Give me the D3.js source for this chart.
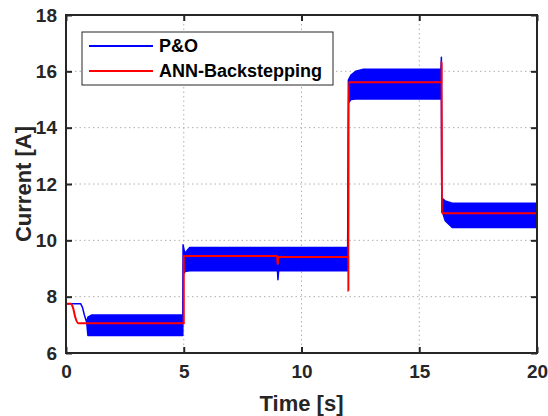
<!DOCTYPE html>
<html>
<head>
<meta charset="utf-8">
<script src="https://cdn.jsdelivr.net/npm/d3@7"></script>
<style>
  html, body { margin: 0; padding: 0; background: #fff; }
  svg { display: block; font-family: "Liberation Sans", Arial, sans-serif; }
</style>
</head>
<body>
<svg id="chart" width="548" height="416"></svg>
<script>
// P&O current: ripple envelope (low / high) over time
const poTime = [0, 0.62, 0.70, 0.78, 0.88, 0.93, 1.10, 4.96, 4.97, 5.03, 5.05, 5.25, 8.98, 9.00, 9.03, 11.96, 11.99, 12.10, 12.30, 12.60, 15.92, 15.94, 15.96, 16.00, 16.10, 16.40, 20];
const poLow  = [7.75, 7.75, 7.62, 7.35, 7.08, 6.62, 6.62, 6.62, 8.79, 8.85, 8.89, 8.92, 8.92, 8.60, 8.92, 8.92, 14.87, 15.00, 15.02, 15.02, 15.02, 15.02, 11.00, 10.97, 10.70, 10.46, 10.46];
const poHigh = [7.75, 7.75, 7.62, 7.35, 7.08, 7.27, 7.35, 7.35, 9.84, 9.60, 9.54, 9.75, 9.75, 9.75, 9.75, 9.75, 15.69, 15.87, 16.00, 16.07, 16.07, 16.50, 11.47, 11.47, 11.40, 11.32, 11.32];

// ANN-Backstepping current
const annTime = [0, 0.21, 0.30, 0.40, 0.52, 5.00, 5.00, 8.97, 8.98, 9.00, 9.01, 11.99, 11.99, 12.00, 15.95, 15.95, 15.96, 20];
const annVal  = [7.75, 7.75, 7.60, 7.25, 7.06, 7.06, 9.44, 9.44, 9.16, 9.16, 9.41, 9.41, 8.21, 15.61, 15.61, 16.32, 10.96, 10.96];

const xTicks = [0, 5, 10, 15, 20];
const yTicks = [6, 8, 10, 12, 14, 16, 18];
const seriesNames = ["P&O", "ANN-Backstepping"];
const seriesColors = ["#0000ff", "#ff0000"];

const W = 548, H = 416;
const m = { left: 66, right: 11, top: 15, bottom: 63 };
const iw = W - m.left - m.right, ih = H - m.top - m.bottom;

const svg = d3.select("#chart");
const g = svg.append("g").attr("transform", `translate(${m.left},${m.top})`);

const x = d3.scaleLinear().domain([0, 20]).range([0, iw]);
const y = d3.scaleLinear().domain([6, 18]).range([ih, 0]);

// dotted grid
g.append("g").selectAll("line.gx").data(xTicks.slice(1, -1)).join("line")
  .attr("x1", d => x(d)).attr("x2", d => x(d)).attr("y1", 0).attr("y2", ih)
  .attr("stroke", "#b0b0b0").attr("stroke-width", 1).attr("stroke-dasharray", "1.5,3");
g.append("g").selectAll("line.gy").data(yTicks.slice(1, -1)).join("line")
  .attr("x1", 0).attr("x2", iw).attr("y1", d => y(d)).attr("y2", d => y(d))
  .attr("stroke", "#b0b0b0").attr("stroke-width", 1).attr("stroke-dasharray", "1.5,3");

const po = poTime.map((t, i) => ({ t, lo: poLow[i], hi: poHigh[i] }));
const ann = annTime.map((t, i) => ({ t, v: annVal[i] }));

svg.append("defs").append("clipPath").attr("id", "plotclip")
  .append("rect").attr("x", 0).attr("y", 0).attr("width", iw).attr("height", ih);
const plot = g.append("g").attr("clip-path", "url(#plotclip)");

// P&O ripple band
plot.append("path").datum(po)
  .attr("d", d3.area().x(d => x(d.t)).y0(d => y(d.lo)).y1(d => y(d.hi)))
  .attr("fill", seriesColors[0])
  .attr("stroke", seriesColors[0]).attr("stroke-width", 1.5).attr("stroke-linejoin", "round");

// ANN-Backstepping trace
plot.append("path").datum(ann)
  .attr("d", d3.line().x(d => x(d.t)).y(d => y(d.v)).curve(d3.curveMonotoneX))
  .attr("fill", "none").attr("stroke", seriesColors[1]).attr("stroke-width", 2);

// axes with inward ticks on all four sides
const fontTick = 19;
const axB = g.append("g").attr("transform", `translate(0,${ih})`)
  .call(d3.axisBottom(x).tickValues(xTicks).tickSize(-6).tickPadding(12));
const axL = g.append("g")
  .call(d3.axisLeft(y).tickValues(yTicks).tickSize(-6).tickPadding(9));
const axT = g.append("g")
  .call(d3.axisTop(x).tickValues(xTicks).tickSize(-6).tickFormat(""));
const axR = g.append("g").attr("transform", `translate(${iw},0)`)
  .call(d3.axisRight(y).tickValues(yTicks).tickSize(-6).tickFormat(""));
[axB, axL, axT, axR].forEach(a => {
  a.select(".domain").remove();
  a.selectAll(".tick line").attr("stroke", "#262626").attr("stroke-width", 2);
  a.selectAll("text").attr("font-size", fontTick).attr("font-weight", "bold").attr("fill", "#262626");
});

// frame
g.append("rect").attr("x", 0).attr("y", 0).attr("width", iw).attr("height", ih)
  .attr("fill", "none").attr("stroke", "#262626").attr("stroke-width", 2);

// axis titles
svg.append("text").attr("x", m.left + iw / 2).attr("y", 411)
  .attr("text-anchor", "middle").attr("font-size", 22).attr("font-weight", "bold")
  .attr("fill", "#262626").text("Time [s]");
svg.append("text").attr("transform", `translate(31,${m.top + ih / 2}) rotate(-90)`)
  .attr("text-anchor", "middle").attr("font-size", 22).attr("font-weight", "bold")
  .attr("fill", "#262626").text("Current [A]");

// legend
const lg = svg.append("g").attr("transform", "translate(82,32)");
lg.append("rect").attr("width", 251).attr("height", 53)
  .attr("fill", "#fff").attr("stroke", "#262626").attr("stroke-width", 1);
seriesNames.forEach((name, i) => {
  const yy = 14 + i * 25;
  lg.append("line").attr("x1", 7).attr("x2", 71).attr("y1", yy).attr("y2", yy)
    .attr("stroke", seriesColors[i]).attr("stroke-width", 2);
  lg.append("text").attr("x", 77).attr("y", yy + 6)
    .attr("font-size", 18).attr("font-weight", "bold").attr("fill", "#000").text(name);
});
</script>
</body>
</html>
